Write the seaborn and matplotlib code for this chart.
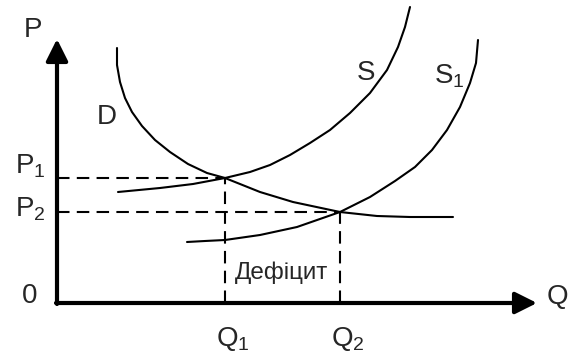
import numpy as np
import pandas as pd
import matplotlib
matplotlib.use("Agg")
import matplotlib.pyplot as plt
import seaborn as sns

# curve points (quantity, price)
d_q = [60, 60, 63, 68, 75, 85, 98, 113, 131, 150, 168, 203, 236, 283, 320, 353, 396]
d_p = [255, 238, 221, 205, 191, 177, 163, 151, 139, 130, 125, 111, 101, 91, 87, 86, 86]

s_q = [61, 103, 136, 168, 193, 213, 233, 253, 273, 293, 313, 330, 341, 348, 353]
s_p = [111, 115, 119, 125, 131, 138, 148, 160, 173, 190, 210, 233, 256, 276, 296]

s1_q = [130, 148, 168, 203, 240, 283, 313, 338, 358, 375, 390, 403, 413, 419, 421]
s1_p = [61, 62, 63, 68, 76, 91, 106, 122, 136, 153, 173, 196, 220, 240, 263]

q_marks = [168, 283]   # Q1, Q2
p_marks = [125, 91]    # P1, P2
q_max, p_max = 480, 264

sns.set_theme(style="white")
plt.rcParams['font.family'] = ['Liberation Sans', 'DejaVu Sans']

fig = plt.figure(figsize=(5.71, 3.56), dpi=100)
ax = fig.add_axes([0, 0, 1, 1])

curves = pd.concat([
    pd.DataFrame({"Q": d_q, "P": d_p, "curve": "D"}),
    pd.DataFrame({"Q": s_q, "P": s_p, "curve": "S"}),
    pd.DataFrame({"Q": s1_q, "P": s1_p, "curve": "S1"}),
])
sns.lineplot(data=curves, x="Q", y="P", units="curve", estimator=None, sort=False,
             color="black", linewidth=1.5, ax=ax, legend=False)

# dashed guides
dash = dict(color="black", linewidth=1.5, dashes=(6, 3.5))
for q, p in zip(q_marks, p_marks):
    ax.plot([0, q], [p, p], **dash)
    ax.plot([q, q], [0, p], **dash)

# axes with arrows
arrow = dict(arrowstyle="-|>,head_length=0.6,head_width=0.3", lw=3, color="black",
             mutation_scale=22, shrinkA=0, shrinkB=0)
ax.annotate("", xy=(q_max, 0), xytext=(-1, 0), arrowprops=arrow)
ax.annotate("", xy=(0, p_max), xytext=(0, -1), arrowprops=arrow)

fs = 20
ax.text(-24, 273, "P", fontsize=fs, ha="center", va="center")
ax.text(500, 6, "Q", fontsize=fs, ha="center", va="center")
ax.text(-27, 7, "0", fontsize=fs, ha="center", va="center")
ax.text(-27, 137, r"$\mathregular{P_1}$", fontsize=fs, ha="center", va="center")
ax.text(-27, 94, r"$\mathregular{P_2}$", fontsize=fs, ha="center", va="center")
ax.text(q_marks[0] + 8, -36, r"$\mathregular{Q_1}$", fontsize=fs, ha="center", va="center")
ax.text(q_marks[1] + 8, -36, r"$\mathregular{Q_2}$", fontsize=fs, ha="center", va="center")
ax.text(50, 186, "D", fontsize=fs, ha="center", va="center")
ax.text(309, 230, "S", fontsize=fs, ha="center", va="center")
ax.text(392, 227, r"$\mathregular{S_1}$", fontsize=fs, ha="center", va="center")
ax.text(q_marks[0] + 10, 30, "Дефіцит", fontsize=17.5, ha="left", va="center")

ax.set_xlim(-57, 514)
ax.set_ylim(-53, 303)
ax.axis("off")

fig.savefig("out.png", dpi=100)
